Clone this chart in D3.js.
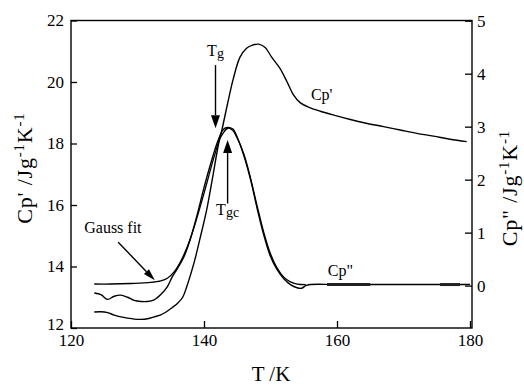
<!DOCTYPE html>
<html>
<head>
<meta charset="utf-8">
<script src="https://cdn.jsdelivr.net/npm/d3@7"></script>
<style>
  body { margin: 0; background: #fff; }
  svg text { font-family: "Liberation Serif", "Times New Roman", Times, serif; fill: #000; }
</style>
</head>
<body>
<script>
// tick values
var xTicks = [120, 140, 160, 180];
var leftTicks = [12, 14, 16, 18, 20, 22];
var rightTicks = [0, 1, 2, 3, 4, 5];

// Cp' (left axis), [T, Cp']
var cpReal = [
  [123.5, 12.52], [124.5, 12.53], [125.5, 12.5], [126.5, 12.42], [127.5, 12.36],
  [128.5, 12.32], [129.5, 12.29], [130.5, 12.28], [131.5, 12.3], [132.5, 12.36],
  [133.5, 12.43], [134.3, 12.52], [135.2, 12.66], [136.0, 12.8], [136.8, 13.0],
  [137.4, 13.34], [138.0, 13.75], [138.6, 14.2], [139.5, 15.0], [140.4, 15.84],
  [141.3, 16.9], [142.2, 18.0], [142.7, 18.45], [143.6, 19.35], [144.4, 20.1],
  [145.4, 20.8], [146.4, 21.1], [147.3, 21.2], [148.2, 21.23], [149.2, 21.12],
  [150.2, 20.8], [151.4, 20.45], [152.5, 20.0], [153.4, 19.6], [154.5, 19.32],
  [155.9, 19.17], [157.5, 19.05], [159.4, 18.93], [162, 18.78], [164.4, 18.66],
  [167, 18.55], [169.5, 18.44], [172, 18.33], [174.5, 18.24], [177, 18.14],
  [179.5, 18.06]
];

// Cp'' (right axis), [T, Cp'']
var cpImag = [
  [123.5, -0.14], [124.5, -0.17], [125.5, -0.26], [126.5, -0.2], [127.5, -0.18],
  [128.5, -0.22], [129.5, -0.28], [130.5, -0.3], [131.5, -0.3], [132.5, -0.27],
  [133.5, -0.17], [134.5, -0.02], [135.2, 0.16], [136, 0.32], [137, 0.55],
  [138, 0.9], [139, 1.35], [140, 1.85], [141, 2.3], [142, 2.7], [142.8, 2.93],
  [143.3, 2.98], [144.3, 2.96], [145, 2.8], [146, 2.45], [147, 2.0], [148, 1.45],
  [149, 0.95], [150, 0.55], [151, 0.3], [152, 0.13], [153, 0.02], [154, -0.04],
  [154.7, -0.05], [155.3, 0.0], [156, 0.02], [160, 0.02], [165, 0.02],
  [170, 0.02], [175, 0.02], [180, 0.02]
];

// Gauss fit (right axis), [T, value]
var gaussFit = [
  [123.5, 0.03], [126, 0.03], [129, 0.04], [132, 0.06], [133.5, 0.09],
  [134.5, 0.14], [135.5, 0.26], [136.5, 0.46], [137.5, 0.74], [138.5, 1.1],
  [139.5, 1.52], [140.5, 1.97], [141.5, 2.42], [142.5, 2.8], [143.6, 2.97],
  [144.3, 2.93], [145, 2.78], [146, 2.48], [147, 2.03], [148, 1.5],
  [149, 1.0], [150, 0.6], [151, 0.33], [152, 0.16], [153, 0.07], [154, 0.03],
  [155.3, 0.02]
];

// thicker stretches of the Cp'' tail, [T from, T to]
var tailThick = [[158.5, 165], [175.5, 178.5]];

var width = 524, height = 385;
var serif = "'Liberation Serif', 'Times New Roman', Times, serif";

var svg = d3.select("body").append("svg")
    .attr("width", width)
    .attr("height", height)
    .attr("font-family", serif);

svg.append("rect").attr("width", width).attr("height", height).attr("fill", "#fff");

// scales
var x = d3.scaleLinear().domain([120, 180]).range([71, 470]);
var yL = d3.scaleLinear().domain([12, 22]).range([328, 20.5]);
var yR = d3.scaleLinear().domain([-0.8, 5]).range([328, 20.7]);

// frame
svg.append("rect")
    .attr("x", 71).attr("y", 20.5)
    .attr("width", 472 - 71).attr("height", 328 - 20.5)
    .attr("fill", "none").attr("stroke", "#000").attr("stroke-width", 1.4);

// axes
var gx = svg.append("g")
    .attr("transform", "translate(0,328)")
    .call(d3.axisBottom(x).tickValues(xTicks).tickSize(-7).tickPadding(6).tickFormat(d3.format("d")));
var gl = svg.append("g")
    .attr("transform", "translate(71,0)")
    .call(d3.axisLeft(yL).tickValues(leftTicks).tickSize(-6).tickPadding(7).tickFormat(d3.format("d")));
var gr = svg.append("g")
    .attr("transform", "translate(472,0)")
    .call(d3.axisRight(yR).tickValues(rightTicks).tickSize(-7).tickPadding(5).tickFormat(d3.format("d")));

[gx, gl, gr].forEach(function(g) {
  g.attr("font-family", serif).attr("font-size", 17);
  g.select(".domain").remove();
  g.selectAll("line").attr("stroke", "#000").attr("stroke-width", 1.3);
  g.selectAll("text").style("font-family", serif).style("font-size", "17px").attr("fill", "#000");
});
// the lowest left label sits a little above its tick, clear of "120"
gl.selectAll(".tick").filter(function(d) { return d === 12; }).select("text").attr("dy", "0.1em");

// curves
var lineL = d3.line()
    .x(function(d) { return x(d[0]); })
    .y(function(d) { return yL(d[1]); })
    .curve(d3.curveCatmullRom);
var lineR = d3.line()
    .x(function(d) { return x(d[0]); })
    .y(function(d) { return yR(d[1]); })
    .curve(d3.curveCatmullRom);

svg.append("path").datum(cpReal)
    .attr("d", lineL).attr("fill", "none").attr("stroke", "#000").attr("stroke-width", 1.4);
svg.append("path").datum(cpImag)
    .attr("d", lineR).attr("fill", "none").attr("stroke", "#000").attr("stroke-width", 1.4);
svg.append("path").datum(gaussFit)
    .attr("d", lineR).attr("fill", "none").attr("stroke", "#000").attr("stroke-width", 1.3);

svg.selectAll(".thick").data(tailThick).enter().append("line")
    .attr("x1", function(d) { return x(d[0]); })
    .attr("x2", function(d) { return x(d[1]); })
    .attr("y1", yR(0.02)).attr("y2", yR(0.02))
    .attr("stroke", "#222").attr("stroke-width", 3);

// arrows
function arrow(x1, y1, x2, y2, len, wid) {
  var ang = Math.atan2(y2 - y1, x2 - x1);
  var bx = x2 - len * Math.cos(ang), by = y2 - len * Math.sin(ang);
  svg.append("line")
      .attr("x1", x1).attr("y1", y1).attr("x2", bx).attr("y2", by)
      .attr("stroke", "#000").attr("stroke-width", 1.4);
  var px = -Math.sin(ang) * wid / 2, py = Math.cos(ang) * wid / 2;
  svg.append("path")
      .attr("d", "M" + x2 + "," + y2 + "L" + (bx + px) + "," + (by + py) + "L" + (bx - px) + "," + (by - py) + "Z")
      .attr("fill", "#000");
}

arrow(x(141.73), yL(20.55), x(141.73), yL(18.5), 13, 9);
arrow(x(143.55), yR(1.55), x(143.55), yR(2.75), 13, 9);
arrow(x(127.1), yR(0.82), x(132.6), yR(0.1), 12, 7);

// labels
var tg = svg.append("text").attr("x", x(141.73)).attr("y", yL(20.85))
    .attr("text-anchor", "middle").style("font-size", "16px");
tg.append("tspan").text("T");
tg.append("tspan").attr("dy", 2).style("font-size", "14px").text("g");

var tgc = svg.append("text").attr("x", x(143.55)).attr("y", yR(1.33))
    .attr("text-anchor", "middle").style("font-size", "16px");
tgc.append("tspan").text("T");
tgc.append("tspan").attr("dy", 2).style("font-size", "14px").text("gc");

svg.append("text").attr("x", x(157.7)).attr("y", yL(19.41))
    .attr("text-anchor", "middle").style("font-size", "16px").text("Cp'");
svg.append("text").attr("x", x(160.5)).attr("y", yR(0.18))
    .attr("text-anchor", "middle").style("font-size", "16px").text("Cp\"");
svg.append("text").attr("x", x(126.3)).attr("y", yR(1.0))
    .attr("text-anchor", "middle").style("font-size", "16px").text("Gauss fit");

// axis titles
svg.append("text").attr("x", 271).attr("y", 381)
    .attr("text-anchor", "middle").style("font-size", "21px").text("T /K");

function unitTitle(cx, cy, name) {
  var t = svg.append("text")
      .attr("transform", "translate(" + cx + "," + cy + ") rotate(-90)")
      .attr("text-anchor", "middle").style("font-size", "22px")
      .style("letter-spacing", "0.8px");
  t.append("tspan").text(name + "  /Jg");
  t.append("tspan").attr("dy", -8).style("font-size", "15px").text("-1");
  t.append("tspan").attr("dy", 8).text("K");
  t.append("tspan").attr("dy", -8).style("font-size", "15px").text("-1");
}
unitTitle(32, 168, "Cp'");
unitTitle(517, 188, "Cp\"");
</script>
</body>
</html>
